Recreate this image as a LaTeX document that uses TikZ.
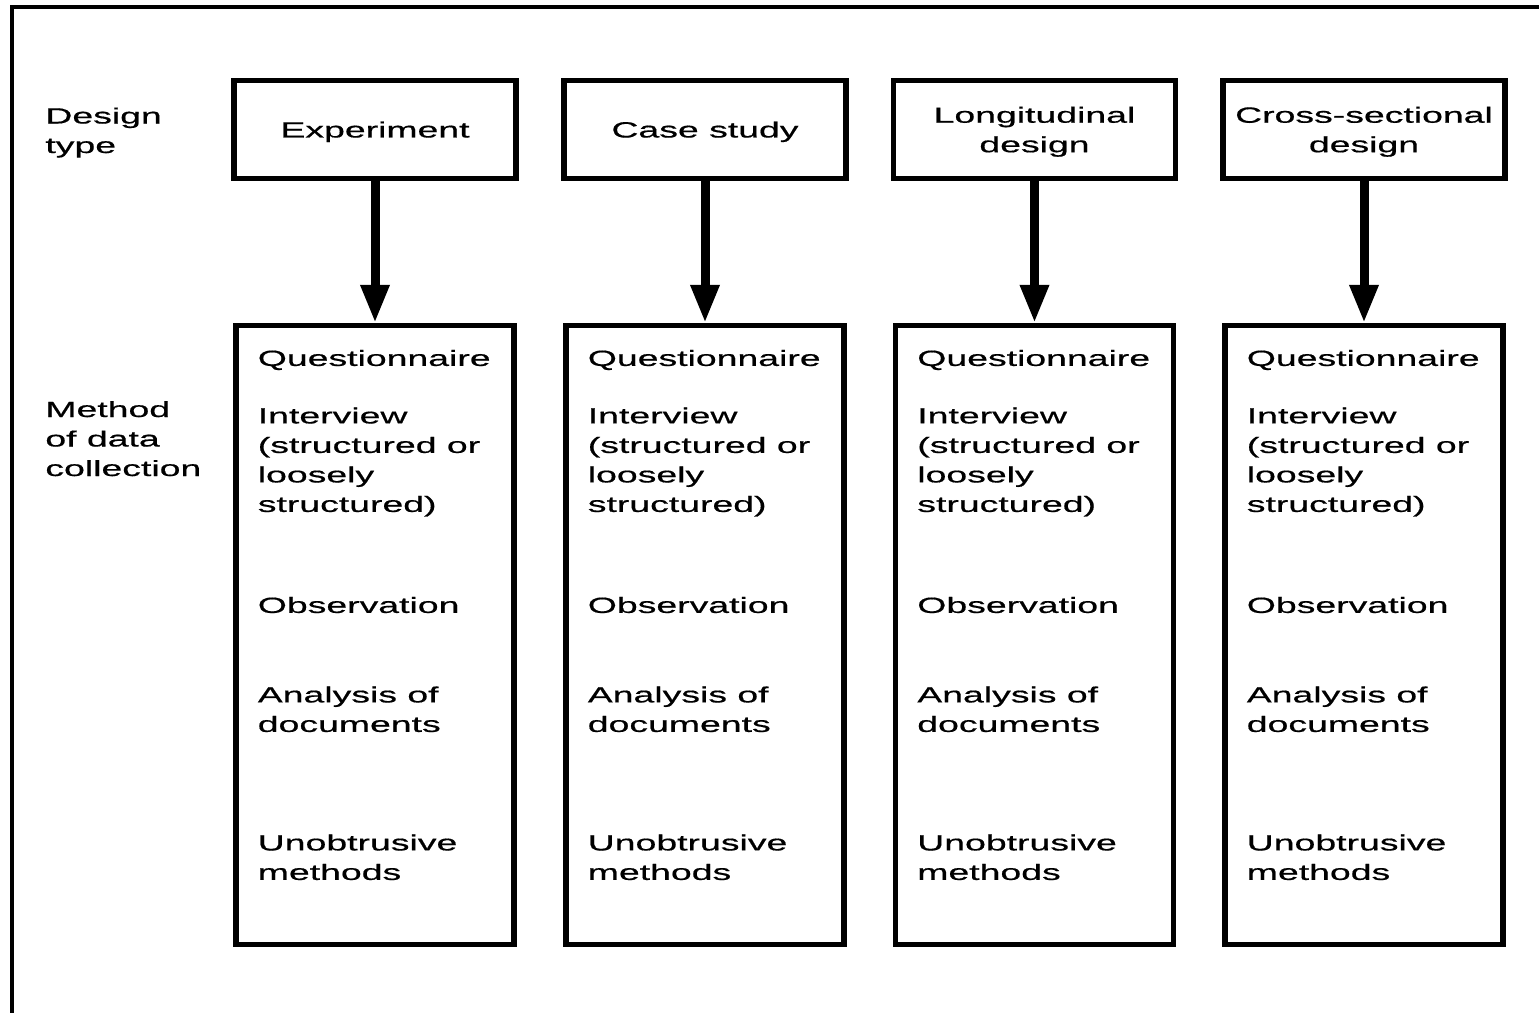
\documentclass[tikz,border=0pt]{standalone}
\usepackage{fontspec}
\setmainfont[FakeStretch=1.7,FakeBold=0.6]{Liberation Sans}
\usetikzlibrary{arrows.meta,calc,positioning}

\begin{document}
\begin{tikzpicture}[x=0.5pt,y=-0.5pt,
  every node/.style={font=\fontsize{11}{14.75}\selectfont},
  designbox/.style={draw, line width=2.6pt, minimum width=141pt, minimum height=49pt, align=center, inner sep=0pt, text depth=0pt},
  methodbox/.style={draw, line width=2.6pt, minimum width=139pt, minimum height=309.5pt, inner sep=0pt},
  item/.style={anchor=base west, align=left, inner sep=0pt},
  flow/.style={line width=4.5pt, -{Triangle[width=13.5pt,length=19pt]}}]
\useasboundingbox (0,0) rectangle (1539,1013);

% Outer frame (runs off at right and bottom)
\draw[line width=2pt] (12,1013) -- (12,7) -- (1539,7);

% Row labels (base = last line)
\node[item] (lbldesign) at (45,153) {Design\\type};
\node[item] (lblmethod) at (45,476) {Method\\of data\\collection};

% One column per design type
\foreach \n/\x/\dname in {exp/375/Experiment, case/705/Case study, long/1034.5/{Longitudinal\\design}, cross/1364/{Cross-sectional\\design}}{
  \node[designbox] (\n) at (\x,129.5) {\dname};
  \node[methodbox] (\n m) at (\x,635) {};
  \draw[flow] (\n) -- (\n m);
  % Methods inside the box
  \node[item] (\n q) at ($(\n m.north west)+(24,43)$) {Questionnaire};
  \node[item] (\n i) at ($(\n m.north west)+(24,189)$) {Interview\\(structured or\\loosely\\structured)};
  \node[item] (\n o) at ($(\n m.north west)+(24,290)$) {Observation};
  \node[item] (\n a) at ($(\n m.north west)+(24,409)$) {Analysis of\\documents};
  \node[item] (\n u) at ($(\n m.north west)+(24,557)$) {Unobtrusive\\methods};
}
\end{tikzpicture}
\end{document}
